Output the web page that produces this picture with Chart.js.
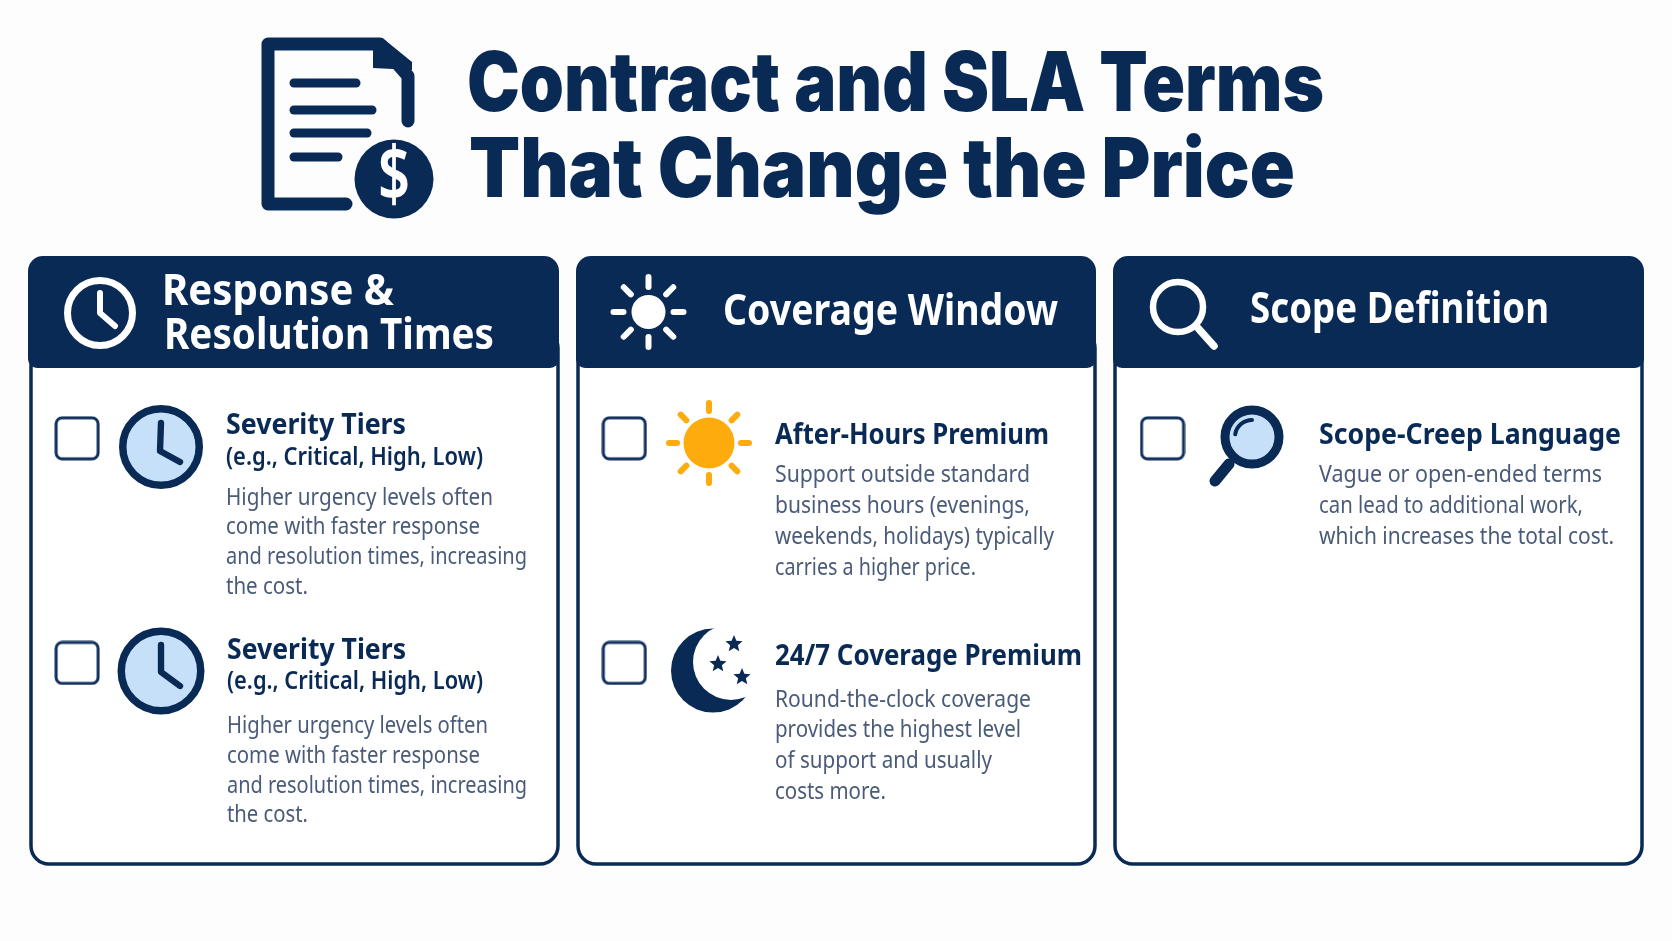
<!DOCTYPE html>
<html>
<head>
<meta charset="utf-8">
<title>Contract and SLA Terms That Change the Price</title>
<script src="https://cdn.jsdelivr.net/npm/chart.js@4"></script>
<style>
    html, body { margin: 0; padding: 0; background: #fdfdfe; }
    canvas { display: block; }
</style>
</head>
<body>
<canvas id="sheet" width="1672" height="941"></canvas>
<script>
const titleLines = ['Contract and SLA Terms', 'That Change the Price'];
const headerLabels = [['Response &', 'Resolution Times'], ['Coverage Window'], ['Scope Definition']];
const severityLines = ['Higher urgency levels often', 'come with faster response', 'and resolution times, increasing', 'the cost.'];
const afterHoursLines = ['Support outside standard', 'business hours (evenings,', 'weekends, holidays) typically', 'carries a higher price.'];
const roundClockLines = ['Round-the-clock coverage', 'provides the highest level', 'of support and usually', 'costs more.'];
const scopeCreepLines = ['Vague or open-ended terms', 'can lead to additional work,', 'which increases the total cost.'];
const checkboxColumns = [76.5, 623, 1162.5];
const checkboxRows = [438, 663];
const checkboxColumnShift = [-4, -1, 2];

const NAVY = '#0a2a56';
const BODY = '#4a5b79';
const TINT = '#c6e0f9';
const ORANGE = '#fdab0d';
const TITLE_FONT = '900 82px Inter';
const HEADER_FONT = '700 43px "Noto Sans"';
const ITEM_FONT = '700 29px "Noto Sans"';
const SUB_FONT = '600 25px "Noto Sans"';
const BODY_FONT = '400 23.5px "Noto Sans"';

// text, left, baseline, right edge, font, colour
const textRows = [
    [titleLines[0], 467, 111, 1324, TITLE_FONT, NAVY],
    [titleLines[1], 469, 197, 1295, TITLE_FONT, NAVY],
    [headerLabels[0][0], 162, 305, 394, HEADER_FONT, '#fff'],
    [headerLabels[0][1], 164, 349, 494, HEADER_FONT, '#fff'],
    [headerLabels[1][0], 723, 325, 1058, HEADER_FONT, '#fff'],
    [headerLabels[2][0], 1250, 323, 1549, HEADER_FONT, '#fff'],
    ['Severity Tiers', 226, 434, 406, ITEM_FONT, NAVY],
    ['(e.g., Critical, High, Low)', 226, 465, 483, SUB_FONT, NAVY],
    [severityLines[0], 226, 505, 493, BODY_FONT, BODY],
    [severityLines[1], 226, 534, 480, BODY_FONT, BODY],
    [severityLines[2], 226, 564, 527, BODY_FONT, BODY],
    [severityLines[3], 226, 594, 308, BODY_FONT, BODY],
    ['Severity Tiers', 227, 659, 406, ITEM_FONT, NAVY],
    ['(e.g., Critical, High, Low)', 227, 689, 483, SUB_FONT, NAVY],
    [severityLines[0], 227, 733, 488, BODY_FONT, BODY],
    [severityLines[1], 227, 763, 480, BODY_FONT, BODY],
    [severityLines[2], 227, 793, 527, BODY_FONT, BODY],
    [severityLines[3], 227, 822, 308, BODY_FONT, BODY],
    ['After-Hours Premium', 775, 444, 1049, ITEM_FONT, NAVY],
    [afterHoursLines[0], 775, 482, 1030, BODY_FONT, BODY],
    [afterHoursLines[1], 775, 513, 1030, BODY_FONT, BODY],
    [afterHoursLines[2], 775, 544, 1054, BODY_FONT, BODY],
    [afterHoursLines[3], 775, 575, 976, BODY_FONT, BODY],
    ['24/7 Coverage Premium', 775, 665, 1082, ITEM_FONT, NAVY],
    [roundClockLines[0], 775, 707, 1031, BODY_FONT, BODY],
    [roundClockLines[1], 775, 737, 1021, BODY_FONT, BODY],
    [roundClockLines[2], 775, 768, 992, BODY_FONT, BODY],
    [roundClockLines[3], 775, 799, 886, BODY_FONT, BODY],
    ['Scope-Creep Language', 1319, 444, 1621, ITEM_FONT, NAVY],
    [scopeCreepLines[0], 1319, 482, 1602, BODY_FONT, BODY],
    [scopeCreepLines[1], 1319, 513, 1583, BODY_FONT, BODY],
    [scopeCreepLines[2], 1319, 544, 1614, BODY_FONT, BODY]
];

function fitText(ctx, text, x, y, right, font, color) {
    ctx.save();
    ctx.font = font;
    ctx.fillStyle = color;
    ctx.textBaseline = 'alphabetic';
    ctx.translate(x, y);
    ctx.scale((right - x) / ctx.measureText(text).width, 1);
    ctx.fillText(text, 0, 0);
    ctx.restore();
}

function segment(ctx, x1, y1, x2, y2, width, color) {
    ctx.strokeStyle = color;
    ctx.lineWidth = width;
    ctx.lineCap = 'round';
    ctx.beginPath();
    ctx.moveTo(x1, y1);
    ctx.lineTo(x2, y2);
    ctx.stroke();
}

function ring(ctx, x, y, r, width, stroke, fill) {
    ctx.beginPath();
    ctx.arc(x, y, r, 0, Math.PI * 2);
    if (fill) { ctx.fillStyle = fill; ctx.fill(); }
    if (width) { ctx.strokeStyle = stroke; ctx.lineWidth = width; ctx.stroke(); }
}

function clock(ctx, x, y, r, width, stroke, fill, hands) {
    ring(ctx, x, y, r - width / 2, width, stroke, fill);
    ctx.strokeStyle = stroke;
    ctx.lineWidth = width * 0.85;
    ctx.lineCap = 'round';
    ctx.lineJoin = 'round';
    ctx.beginPath();
    ctx.moveTo(hands[0], hands[1]);
    ctx.lineTo(hands[2], hands[3]);
    ctx.lineTo(hands[4], hands[5]);
    ctx.stroke();
}

function sun(ctx, x, y, r, inner, outer, color) {
    ring(ctx, x, y, r, 0, null, color);
    for (let i = 0; i < 8; i++) {
        const a = i * Math.PI / 4;
        segment(ctx, x + Math.cos(a) * inner, y + Math.sin(a) * inner,
            x + Math.cos(a) * outer, y + Math.sin(a) * outer, 6, color);
    }
}

function star(ctx, x, y, r) {
    ctx.beginPath();
    for (let i = 0; i < 10; i++) {
        const a = -Math.PI / 2 + i * Math.PI / 5;
        const d = i % 2 ? r * 0.45 : r;
        ctx.lineTo(x + Math.cos(a) * d, y + Math.sin(a) * d);
    }
    ctx.closePath();
    ctx.fillStyle = NAVY;
    ctx.fill();
}

function panel(ctx, left, right, boxLeft, boxRight) {
    ctx.beginPath();
    ctx.roundRect(boxLeft, 330, boxRight - boxLeft, 534, 18);
    ctx.fillStyle = '#fff';
    ctx.fill();
    ctx.strokeStyle = NAVY;
    ctx.lineWidth = 3.5;
    ctx.stroke();
    ctx.beginPath();
    ctx.roundRect(left, 256, right - left, 112, [15, 15, 9, 9]);
    ctx.fillStyle = NAVY;
    ctx.fill();
}

function documentIcon(ctx) {
    ctx.strokeStyle = NAVY;
    ctx.fillStyle = NAVY;
    ctx.lineWidth = 13;
    ctx.lineJoin = 'round';
    ctx.lineCap = 'round';
    ctx.beginPath();
    ctx.moveTo(346, 204);
    ctx.lineTo(268, 204);
    ctx.lineTo(268, 44);
    ctx.lineTo(380, 44);
    ctx.lineTo(408, 76);
    ctx.lineTo(408, 121);
    ctx.stroke();
    // the folded corner is solid in the original
    ctx.beginPath();
    ctx.moveTo(373, 42);
    ctx.lineTo(373, 68);
    ctx.lineTo(412, 70);
    ctx.lineTo(412, 62);
    ctx.lineTo(385, 40);
    ctx.closePath();
    ctx.fill();
    segment(ctx, 294, 83, 356, 83, 9, NAVY);
    segment(ctx, 294, 110, 372, 110, 9, NAVY);
    segment(ctx, 294, 133, 367, 133, 9, NAVY);
    segment(ctx, 294, 157, 338, 157, 9, NAVY);
    ring(ctx, 394, 179, 39.5, 0, null, NAVY);
    fitText(ctx, '$', 378, 201, 410, '600 76px "Noto Sans"', '#fff');
}

const sheetPlugin = {
    id: 'sheet',
    beforeDatasetsDraw(chart) {
        const ctx = chart.ctx;
        ctx.save();
        panel(ctx, 28, 559, 31, 558);
        panel(ctx, 576, 1096, 578, 1095);
        panel(ctx, 1113, 1644, 1115, 1642);
        ctx.restore();
    },
    afterDatasetsDraw(chart) {
        const ctx = chart.ctx;
        ctx.save();
        documentIcon(ctx);

        clock(ctx, 100, 313, 36, 7, '#fff', null, [100, 293, 100, 313, 115, 326]);
        sun(ctx, 648.5, 312, 17, 25, 35, '#fff');
        ring(ctx, 1178, 307, 25, 6.5, '#fff', null);
        segment(ctx, 1197, 327, 1214, 346, 7.5, '#fff');

        clock(ctx, 161, 447, 42, 7.5, NAVY, TINT, [161, 423, 160, 451, 180, 462]);
        clock(ctx, 161, 671, 43.5, 7.5, NAVY, TINT, [161, 645, 161, 672, 180, 686]);
        sun(ctx, 709, 443, 25.5, 32, 40, ORANGE);

        ring(ctx, 713, 670.6, 42, 0, null, NAVY);
        ring(ctx, 731, 662, 38, 0, null, '#fff');
        star(ctx, 734, 644, 9);
        star(ctx, 718, 664, 9);
        star(ctx, 742, 677, 9);

        segment(ctx, 1229, 464, 1215, 481, 11, NAVY);
        ring(ctx, 1252, 437, 27, 9, NAVY, TINT);
        ctx.strokeStyle = NAVY;
        ctx.lineWidth = 4;
        ctx.beginPath();
        ctx.arc(1252, 437, 17, Math.PI * 1.05, Math.PI * 1.5);
        ctx.stroke();

        textRows.forEach(r => fitText(ctx, r[0], r[1], r[2], r[3], r[4], r[5]));
        ctx.restore();
    }
};

// little rounded square used as the point style for the tick boxes
const boxMark = document.createElement('canvas');
boxMark.width = 46;
boxMark.height = 45;
const boxCtx = boxMark.getContext('2d');
boxCtx.strokeStyle = '#0f2f5c';
boxCtx.lineWidth = 3;
boxCtx.beginPath();
boxCtx.roundRect(2, 2, 42, 41, 6);
boxCtx.stroke();

const boxPoints = [
    { x: checkboxColumns[0] + checkboxColumnShift[0], y: checkboxRows[0] },
    { x: checkboxColumns[0] + checkboxColumnShift[0], y: checkboxRows[1] + 2 },
    { x: checkboxColumns[1], y: checkboxRows[0] },
    { x: checkboxColumns[1], y: checkboxRows[1] + 2 },
    { x: checkboxColumns[2] + checkboxColumnShift[2], y: checkboxRows[0] }
];

new Chart(document.getElementById('sheet'), {
    type: 'scatter',
    data: { datasets: [{ data: boxPoints, pointStyle: boxMark }] },
    options: {
        responsive: false,
        animation: false,
        events: [],
        plugins: { legend: { display: false }, tooltip: { enabled: false } },
        scales: {
            x: { type: 'linear', min: 0, max: 1672, display: false },
            y: { type: 'linear', min: 0, max: 941, reverse: true, display: false }
        }
    },
    plugins: [sheetPlugin]
});
</script>
</body>
</html>
